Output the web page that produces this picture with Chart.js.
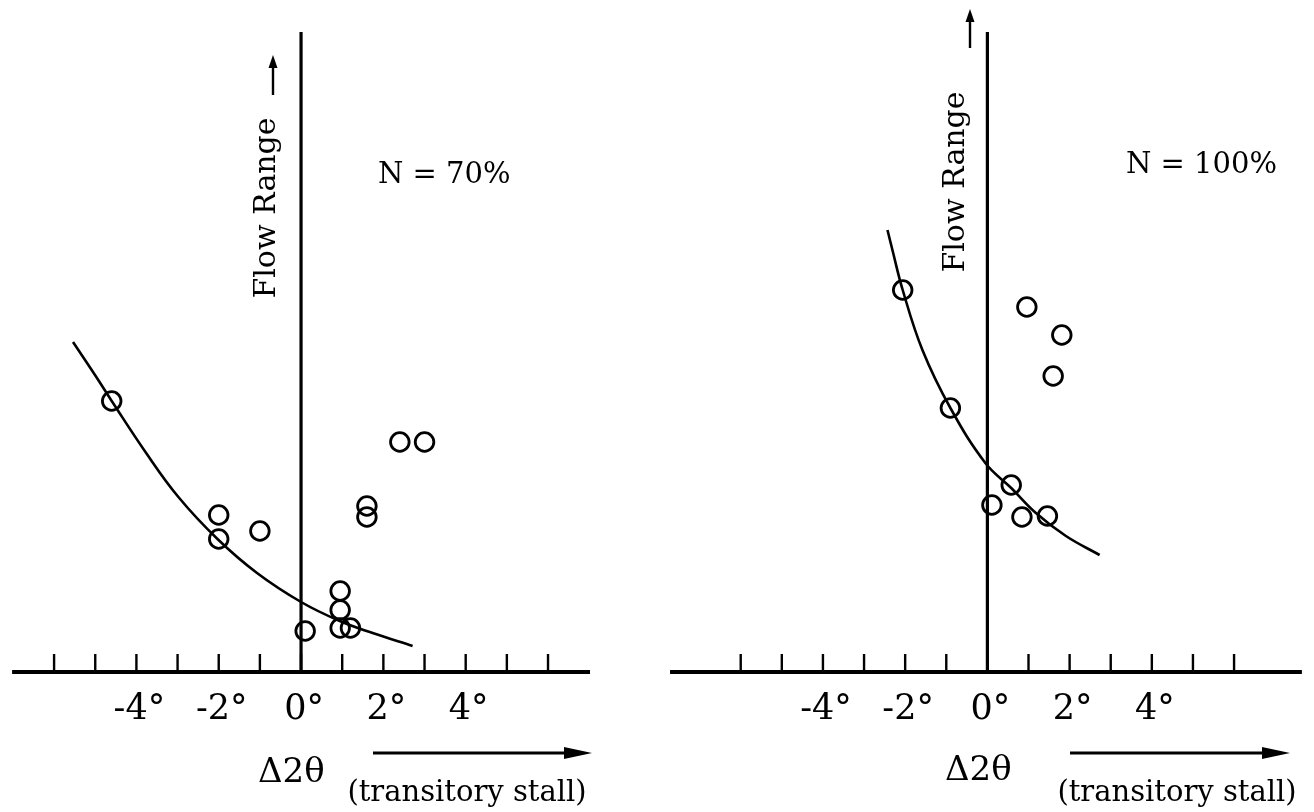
<!DOCTYPE html>
<html lang="en">
<head>
  <meta charset="UTF-8">
  <title>Flow Range vs Δ2θ</title>
  <script src="https://cdn.jsdelivr.net/npm/chart.js"></script>
  <style>
    body { margin: 0; background: #fff; }
    .panel { position: absolute; top: 0; }
  </style>
</head>
<body>
  <canvas id="chartLeft" class="panel" width="657" height="812" style="left:0"></canvas>
  <canvas id="chartRight" class="panel" width="657" height="812" style="left:657px"></canvas>

  <script>
    // tick marks and labels (degrees of Δ2θ), same for both panels
    const tickValues = [-6, -5, -4, -3, -2, -1, 0, 1, 2, 3, 4, 5, 6];
    const labelValues = [-4, -2, 0, 2, 4];
    const tickLabels = ['-4°', '-2°', '0°', '2°', '4°'];

    // N = 70% : measured points (Δ2θ, flow range)
    const leftPtsX = [-4.6, -2.0, -2.0, -1.0, 0.1, 0.95, 0.95, 0.95, 1.2, 1.6, 1.6, 2.4, 3.0];
    const leftPtsY = [27.1, 15.7, 13.3, 14.1, 4.1, 8.1, 6.2, 4.4, 4.4, 16.6, 15.5, 23.0, 23.0];
    // N = 70% : drawn trend curve
    const leftCurveX = [-5.54, -4.99, -4.6, -3.78, -2.98, -2.03, -1.07, 0, 0.94, 1.74, 2.71];
    const leftCurveY = [33.0, 29.6, 27.1, 22.0, 17.5, 13.3, 9.9, 7.0, 5.1, 3.9, 2.6];

    // N = 100% : measured points
    const rightPtsX = [-2.06, -0.90, 0.96, 1.81, 1.60, 0.58, 0.11, 0.84, 1.46];
    const rightPtsY = [38.2, 26.4, 36.5, 33.7, 29.6, 18.7, 16.7, 15.5, 15.6];
    // N = 100% : trend curve
    const rightCurveX = [-2.43, -2.31, -2.06, -1.58, -0.90, -0.05, 0.58, 1.18, 1.91, 2.73];
    const rightCurveY = [44.2, 42.2, 38.2, 32.2, 26.4, 20.9, 18.4, 15.9, 13.6, 11.7];

    const FONT = '"DejaVu Serif", "Liberation Serif", serif';

    function toPoints(xs, ys) {
      return xs.map((x, i) => ({ x: x, y: ys[i] }));
    }

    function text(ctx, str, x, y, size, align, rot) {
      ctx.save();
      ctx.font = size + 'px ' + FONT;
      ctx.fillStyle = '#000';
      ctx.textAlign = align || 'left';
      ctx.textBaseline = rot ? 'middle' : 'alphabetic';
      ctx.translate(x, y);
      if (rot) ctx.rotate(rot);
      ctx.fillText(str, 0, 0);
      ctx.restore();
    }

    function arrow(ctx, x1, y1, x2, y2, headLen, headW, lw) {
      const a = Math.atan2(y2 - y1, x2 - x1);
      const bx = x2 - headLen * Math.cos(a), by = y2 - headLen * Math.sin(a);
      ctx.save();
      ctx.strokeStyle = '#000';
      ctx.fillStyle = '#000';
      ctx.lineWidth = lw;
      ctx.beginPath();
      ctx.moveTo(x1, y1);
      ctx.lineTo(bx, by);
      ctx.stroke();
      ctx.beginPath();
      ctx.moveTo(x2, y2);
      ctx.lineTo(bx + headW * Math.sin(a), by - headW * Math.cos(a));
      ctx.lineTo(bx - headW * Math.sin(a), by + headW * Math.cos(a));
      ctx.closePath();
      ctx.fill();
      ctx.restore();
    }

    // axes, ticks and annotations drawn with the chart's own scales
    const decorations = {
      id: 'decorations',
      afterDraw(chart, args, opts) {
        const ctx = chart.ctx;
        const xs = chart.scales.x, ys = chart.scales.y;
        const y0 = ys.getPixelForValue(0);
        const x0 = xs.getPixelForValue(0);

        ctx.save();
        ctx.strokeStyle = '#000';
        ctx.lineCap = 'butt';
        // horizontal axis
        ctx.lineWidth = 4;
        ctx.beginPath();
        ctx.moveTo(chart.chartArea.left, y0);
        ctx.lineTo(chart.chartArea.right, y0);
        ctx.stroke();
        // vertical axis
        ctx.lineWidth = 3.2;
        ctx.beginPath();
        ctx.moveTo(x0, chart.chartArea.top);
        ctx.lineTo(x0, y0);
        ctx.stroke();
        // tick marks pointing up
        ctx.lineWidth = 2.4;
        tickValues.forEach(v => {
          const px = xs.getPixelForValue(v);
          ctx.beginPath();
          ctx.moveTo(px, y0);
          ctx.lineTo(px, y0 - 18);
          ctx.stroke();
        });
        ctx.restore();

        labelValues.forEach((v, i) => {
          text(ctx, tickLabels[i], xs.getPixelForValue(v) + 3, y0 + 47, 35, 'center');
        });

        const o = opts;
        text(ctx, o.nLabel, o.nX, o.nY, 29, 'left');
        text(ctx, 'Flow Range', o.frX, o.frY, 30, 'center', -Math.PI / 2);
        arrow(ctx, o.upX, o.upTail, o.upX, o.upTip, 13, 4.5, 2.4);
        text(ctx, 'Δ2θ', o.dX, o.dY, 34, 'left');
        text(ctx, '(transitory stall)', o.tsX, o.tsY, 29, 'center');
        arrow(ctx, o.arX1, 753, o.arX2, 753, 28, 6, 3);
      }
    };

    function makePanel(id, ptsX, ptsY, curveX, curveY, xMin, xMax, pad, notes) {
      const ctx = document.getElementById(id).getContext('2d');
      return new Chart(ctx, {
        type: 'scatter',
        data: {
          datasets: [
            {
              label: 'trend',
              data: toPoints(curveX, curveY),
              showLine: true,
              borderColor: '#000',
              borderWidth: 2.6,
              pointRadius: 0,
              tension: 0.4,
              clip: false
            },
            {
              label: 'measured',
              data: toPoints(ptsX, ptsY),
              showLine: false,
              pointStyle: 'circle',
              pointRadius: 9.3,
              pointBorderWidth: 2.8,
              pointBorderColor: '#000',
              pointBackgroundColor: 'rgba(0,0,0,0)',
              clip: false
            }
          ]
        },
        options: {
          responsive: false,
          animation: false,
          devicePixelRatio: 1,
          layout: { padding: pad },
          scales: {
            x: { type: 'linear', min: xMin, max: xMax, display: false },
            y: { type: 'linear', min: 0, max: 64, display: false }
          },
          plugins: {
            legend: { display: false },
            tooltip: { enabled: false },
            decorations: notes
          }
        },
        plugins: [decorations]
      });
    }

    makePanel('chartLeft', leftPtsX, leftPtsY, leftCurveX, leftCurveY, -7.02, 7.02,
      { left: 10, right: 67, top: 32, bottom: 140 },
      { nLabel: 'N = 70%', nX: 378, nY: 183, frX: 267, frY: 208,
        upX: 273, upTip: 55, upTail: 95, dX: 258, dY: 782, tsX: 467, tsY: 801,
        arX1: 373, arX2: 592 });

    makePanel('chartRight', rightPtsX, rightPtsY, rightCurveX, rightCurveY, -7.72, 7.65,
      { left: 13, right: 11, top: 32, bottom: 140 },
      { nLabel: 'N = 100%', nX: 469, nY: 173, frX: 299, frY: 182,
        upX: 313, upTip: 9, upTail: 48, dX: 288, dY: 780, tsX: 520, tsY: 801,
        arX1: 413, arX2: 633 });
  </script>
</body>
</html>
